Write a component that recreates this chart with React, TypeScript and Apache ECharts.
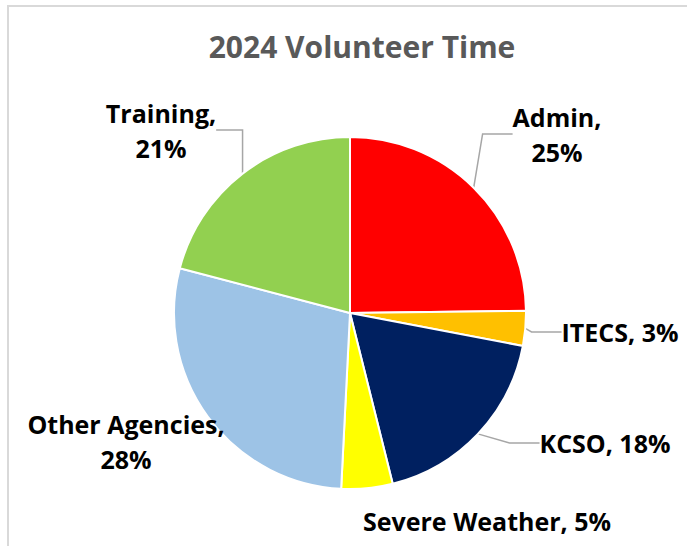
import React, { useEffect, useRef } from "react";
import * as echarts from "echarts";

const categories = ["Admin", "ITECS", "KCSO", "Severe Weather", "Other Agencies", "Training"];
const values = [24.8, 3.2, 18.1, 4.7, 28.3, 20.9];
const colors = ["#FF0000", "#FFC000", "#002060", "#FFFF00", "#9DC3E6", "#92D050"];
const twoLine = [true, false, false, false, true, true];
const showLeader = [true, true, true, false, false, true];
const labelPos: [number, number][] = [
  [557, 134],
  [620, 332],
  [605, 443],
  [487, 521],
  [126, 441],
  [161, 130],
];

export default function App() {
  const ref = useRef<HTMLDivElement>(null);
  useEffect(() => {
    if (!ref.current) return;
    const chart = echarts.init(ref.current, undefined, { renderer: "svg" });
    const font = "'Open Sans', 'Noto Sans', sans-serif";
    chart.setOption({
      animation: false,
      backgroundColor: "#ffffff",
      title: {
        text: "2024 Volunteer Time",
        left: 357,
        top: 26,
        textAlign: "center",
        textStyle: { color: "#595959", fontSize: 30, fontWeight: "bold", fontFamily: font },
      },
      graphic: [
        {
          type: "rect",
          shape: { x: 8, y: 6, width: 720, height: 580 },
          style: { fill: "none", stroke: "#d9d9d9", lineWidth: 2 },
          silent: true,
        },
      ],
      series: [
        {
          type: "pie",
          center: [350, 313],
          radius: 176,
          startAngle: 90,
          clockwise: true,
          avoidLabelOverlap: false,
          itemStyle: { borderColor: "#ffffff", borderWidth: 2 },
          label: {
            show: true,
            position: "outside",
            color: "#000000",
            fontSize: 25,
            fontWeight: "bold",
            fontFamily: font,
            lineHeight: 35,
            formatter: (p: any) => {
              const pct = Math.round(p.value) + "%";
              return twoLine[p.dataIndex] ? `${p.name},\n${pct}` : `${p.name}, ${pct}`;
            },
          },
          labelLine: {
            show: true,
            lineStyle: { color: "#a6a6a6", width: 1.5 },
          },
          labelLayout: (params: any) => {
            const p = labelPos[params.dataIndex];
            return { x: p[0], y: p[1], align: "center", verticalAlign: "middle" };
          },
          data: categories.map((name, i) => ({
            name,
            value: values[i],
            itemStyle: { color: colors[i] },
            labelLine: { show: showLeader[i] },
          })),
        },
      ],
    });
    return () => chart.dispose();
  }, []);
  return (
    <div
      ref={ref}
      style={{ position: "fixed", left: 0, top: 0, width: 687, height: 546 }}
    />
  );
}
